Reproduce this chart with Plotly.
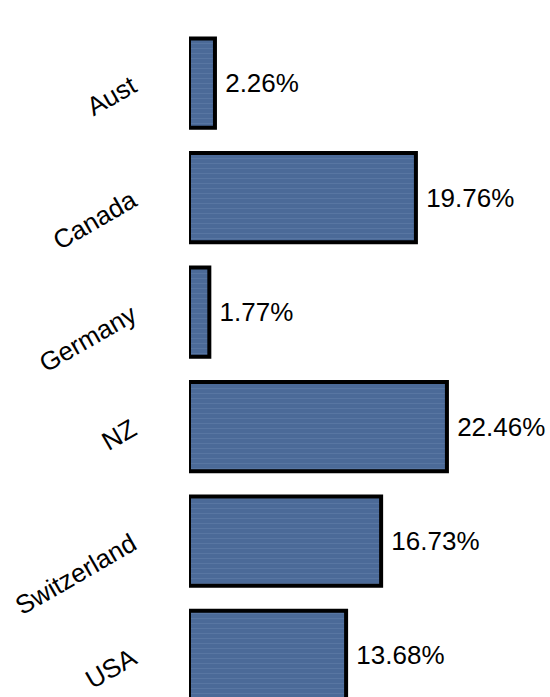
import plotly.graph_objects as go

countries = ["Aust", "Canada", "Germany", "NZ", "Switzerland", "USA"]
shares = [2.26, 19.76, 1.77, 22.46, 16.73, 13.68]

FONT = "Arial, Liberation Sans, sans-serif"

fig = go.Figure(
    go.Bar(
        x=shares,
        y=countries,
        orientation="h",
        marker=dict(
            color="#4b6a98",
            line=dict(color="#000000", width=4),
            pattern=dict(shape="-", fgcolor="#7590ba", fgopacity=0.3, size=5, solidity=0.2),
        ),
        texttemplate="\u00a0%{x:.2f}%",
        textposition="outside",
        textfont=dict(family=FONT, size=26, color="#000000"),
        cliponaxis=False,
        hoverinfo="skip",
    )
)

fig.update_layout(
    width=550,
    height=697,
    margin=dict(l=189, r=5, t=26, b=0, autoexpand=False),
    paper_bgcolor="white",
    plot_bgcolor="white",
    showlegend=False,
    bargap=0.22,
    font=dict(family=FONT, size=26, color="#000000"),
    xaxis=dict(range=[0, 31], showgrid=False, zeroline=False, showticklabels=False,
               showline=False, ticks="", automargin=False),
    yaxis=dict(
        categoryorder="array",
        categoryarray=countries,
        range=[5.363, -0.5],
        showgrid=False,
        zeroline=False,
        showline=False,
        ticks="",
        tickangle=-30,
        ticklabelstandoff=56,
        automargin=False,
        tickfont=dict(family=FONT, size=26, color="#000000"),
    ),
)

fig.write_html(
    "out.html",
    config={"displayModeBar": False},
    post_script="document.body.style.margin='0';document.body.style.overflow='hidden';",
)
